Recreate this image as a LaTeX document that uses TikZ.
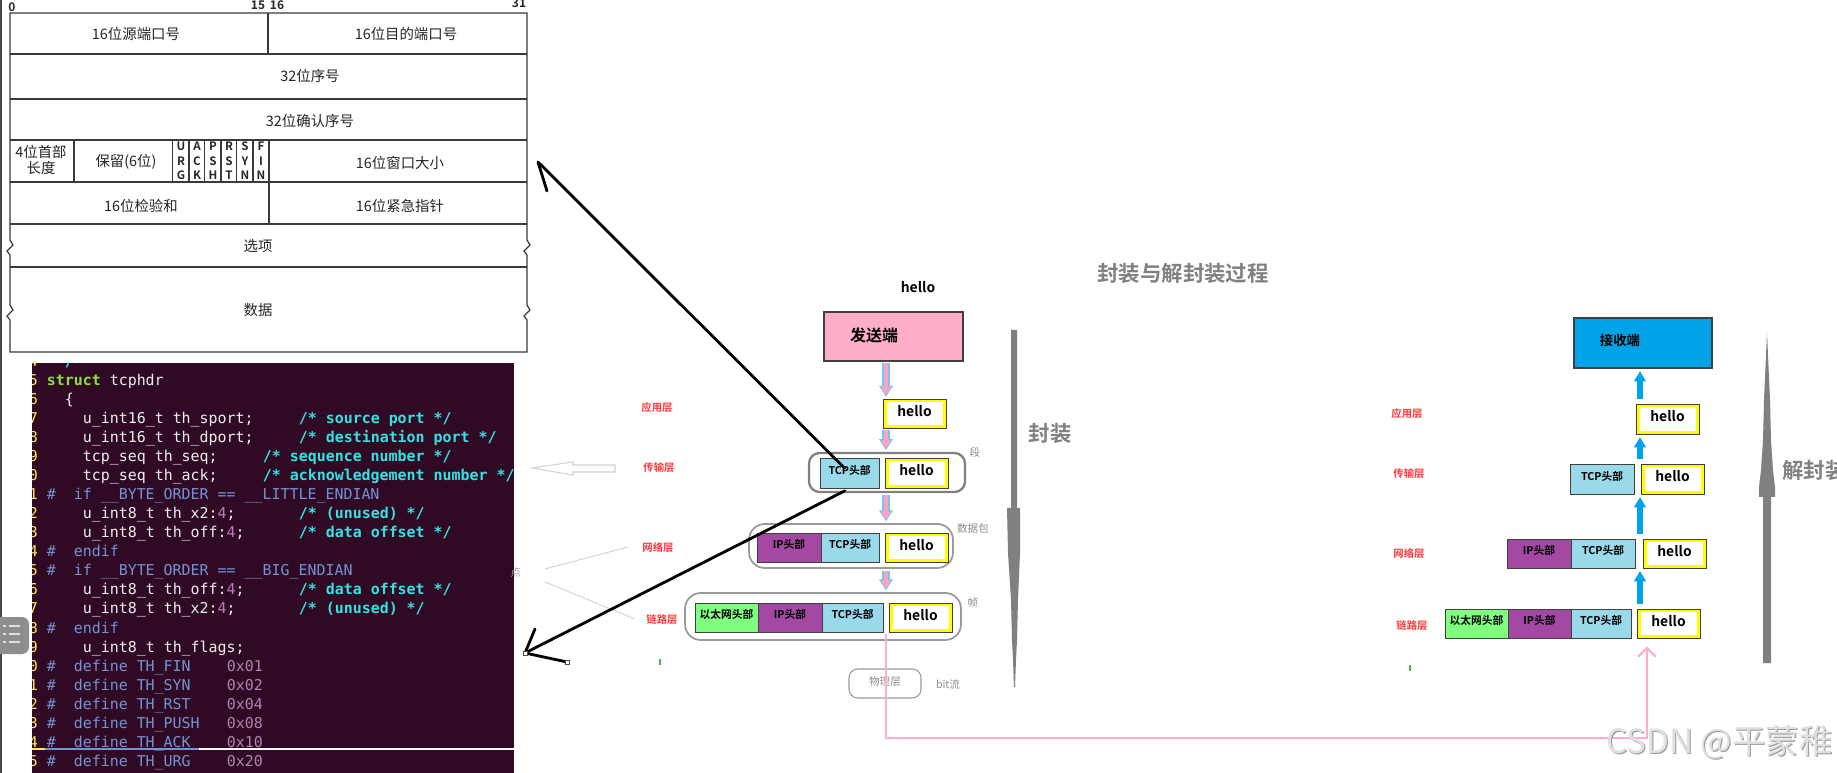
\documentclass[tikz,border=0pt]{standalone}
\usepackage{fontspec}
\setmainfont{Noto Sans CJK SC}[BoldFont={Noto Sans CJK SC Bold}]
\newfontfamily\codefont{DejaVu Sans Mono}
\usetikzlibrary{arrows.meta, positioning, fit}
\definecolor{tblink}{HTML}{3A3A3A}
\definecolor{edgegray}{HTML}{454545}
\definecolor{codebg}{HTML}{300A24}
\definecolor{codewhite}{HTML}{EEEEEC}
\definecolor{codegreen}{HTML}{8AE234}
\definecolor{codecyan}{HTML}{34E2E2}
\definecolor{codeblue}{HTML}{7493D2}
\definecolor{codeplum}{HTML}{B77FB5}
\definecolor{lnyellow}{HTML}{FCE94F}
\definecolor{sendpink}{HTML}{FFAEC9}
\definecolor{recvblue}{HTML}{00A2E8}
\definecolor{tcpblue}{HTML}{99D9EA}
\definecolor{ippurple}{HTML}{A349A4}
\definecolor{ethgreen}{HTML}{80FF80}
\definecolor{helloyel}{HTML}{FFFF00}
\definecolor{boxedge}{HTML}{404040}
\definecolor{grpgray}{HTML}{9A9A9A}
\definecolor{lblgray}{HTML}{8C8C8C}
\definecolor{layred}{HTML}{FF3A3A}
\definecolor{bargray}{HTML}{808080}
\definecolor{arrblue}{HTML}{74C4EC}
\definecolor{arrpink}{HTML}{FFA3C4}
\definecolor{tabgray}{HTML}{8E8E8E}
\definecolor{faintgray}{HTML}{D2D2D2}

\newcommand\kwd[1]{\textcolor{codegreen}{\bfseries #1}}
\newcommand\cmt[1]{\textcolor{codecyan}{\bfseries #1}}
\newcommand\ppc[1]{\textcolor{codeblue}{#1}}
\newcommand\numc[1]{\textcolor{codeplum}{#1}}
\newcommand\codeat[3]{\node[codetxt] (c#1-#2) at ({46.5+9*#2},{367+19*#1}) {#3};}
% text inside fitted cells sits on the centre line: lower it
\newcommand\hl{\raisebox{-3.4pt}{hello}}
\newcommand\hd[1]{\raisebox{-1.9pt}{#1}}

\begin{document}
\begin{tikzpicture}[x=0.02cm, y=-0.02cm,
  tblline/.style={draw=tblink, line width=0.7pt},
  tbltxt/.style={inner sep=0pt, text=black!85, font=\fontsize{8.2}{8.8}\selectfont, align=center},
  flagtxt/.style={inner sep=0pt, text=black!85, font=\bfseries\fontsize{6.6}{8.2}\selectfont, align=center},
  bittxt/.style={inner sep=0pt, text=black!85, font=\bfseries\fontsize{6.8}{7}\selectfont},
  codetxt/.style={anchor=base west, inner sep=0pt, text=codewhite, font=\codefont\fontsize{8.5}{9}\selectfont},
  laybl/.style={inner sep=0pt, text=layred, font=\bfseries\fontsize{5.9}{6}\selectfont},
  graytxt/.style={inner sep=0pt, text=lblgray, font=\fontsize{6}{7}\selectfont},
  cell/.style={draw=boxedge, line width=0.5pt, inner sep=0pt, font=\bfseries\fontsize{6.1}{7}\selectfont},
  tcpcell/.style={cell, fill=tcpblue},
  ipcell/.style={cell, fill=ippurple},
  ethcell/.style={cell, fill=ethgreen},
  hellocell/.style={cell, fill=helloyel, font=\bfseries\fontsize{7.9}{8}\selectfont,
    path picture={\fill[white] ([shift={(2.2pt,-1.6pt)}]path picture bounding box.north west)
      rectangle ([shift={(-1.9pt,1.9pt)}]path picture bounding box.south east);}},
  endbox/.style={draw=boxedge, line width=0.6pt, inner sep=0pt},
  grp/.style={draw=grpgray, line width=1pt, inner sep=0pt},
  titletxt/.style={inner sep=0pt, text=bargray, font=\bfseries\fontsize{12.2}{13}\selectfont},
  downarr/.style={draw=arrblue, line width=4pt, shorten <=1pt, shorten >=1pt,
    -{Triangle[width=7.5pt,length=6.2pt]},
    postaction={draw=arrpink, line width=2.6pt, shorten >=2pt, -{Triangle[width=5.6pt,length=4.6pt]}}},
  uparr/.style={draw=recvblue, line width=3.6pt, shorten <=2.5pt, shorten >=1.5pt,
    -{Triangle[width=6.5pt,length=5.8pt]}},
  handarr/.style={draw=black, line width=1.6pt, line cap=round},
  pinkline/.style={draw=sendpink, line width=1.2pt}
]
\clip (0,0) rectangle (1837,773);
\fill[white] (0,0) rectangle (1837,773);
\fill[edgegray] (0,0) rectangle (2,773);

% TCP header layout
\draw[tblline] (10,352) -- (10,320) -- (7,316) -- (13,310) -- (10,305) -- (10,255) -- (7,251) -- (13,245) -- (10,240)
  -- (10,13) -- (527,13) -- (527,240) -- (530,245) -- (524,251) -- (527,255) -- (527,305) -- (530,310)
  -- (524,316) -- (527,320) -- (527,352) -- cycle;
\foreach \yy in {54,99,140,182,224,267}
  \draw[tblline] (10,\yy) -- (527,\yy);
\draw[tblline] (268,13) -- (268,54) (269,182) -- (269,224);
\foreach \xx in {74,172.5,189,204.5,221,236.5,253,269}
  \draw[tblline] (\xx,140) -- (\xx,182);

\node[bittxt] (b0) at (12,7) {0};
\node[bittxt] (b15) at (258,5) {15};
\node[bittxt] (b16) at (277,5) {16};
\node[bittxt] (b31) at (519,3) {31};
\node[tbltxt] (sport) at (136,34) {16位源端口号};
\node[tbltxt] (dport) at (406,34) {16位目的端口号};
\node[tbltxt] (seq) at (310,76) {32位序号};
\node[tbltxt] (ack) at (310,121) {32位确认序号};
\node[tbltxt] (hlen) at (41,160) {4位首部\\长度};
\node[tbltxt] (resv) at (126,162) {保留(6位)};
\foreach \a/\b/\c/\fx in {U/R/G/181, A/C/K/197, P/S/H/213, R/S/T/229, S/Y/N/245, F/I/N/261}
  \node[flagtxt] (flag-\a\b\c) at (\fx,161) {\a\\\b\\\c};
\node[tbltxt] (win) at (400,163) {16位窗口大小};
\node[tbltxt] (csum) at (141,206) {16位检验和};
\node[tbltxt] (urgp) at (400,206) {16位紧急指针};
\node[tbltxt] (opts) at (258,246) {选项};
\node[tbltxt] (data) at (258,310) {数据};

% tcphdr source
\fill[codebg] (32,363) rectangle (514,773);
\begin{scope}
  \clip (32,363) rectangle (514,773);
  \foreach \rw in {0,...,21} {
    \pgfmathtruncatemacro\lnum{mod(\rw+4,10)}
    \node[codetxt, text=lnyellow] (ln\rw) at (28.5,{367+19*\rw}) {\lnum};
  }
  \codeat{0}{1}{\cmt{*/}}
  \codeat{1}{0}{\kwd{struct} tcphdr}
  \codeat{2}{2}{\{}
  \codeat{3}{4}{u\_int16\_t th\_sport;}
  \codeat{3}{28}{\cmt{/* source port */}}
  \codeat{4}{4}{u\_int16\_t th\_dport;}
  \codeat{4}{28}{\cmt{/* destination port */}}
  \codeat{5}{4}{tcp\_seq th\_seq;}
  \codeat{5}{24}{\cmt{/* sequence number */}}
  \codeat{6}{4}{tcp\_seq th\_ack;}
  \codeat{6}{24}{\cmt{/* acknowledgement number */}}
  \codeat{7}{0}{\ppc{\#\ \ if \_\_BYTE\_ORDER == \_\_LITTLE\_ENDIAN}}
  \codeat{8}{4}{u\_int8\_t th\_x2:\numc{4};}
  \codeat{8}{28}{\cmt{/* (unused) */}}
  \codeat{9}{4}{u\_int8\_t th\_off:\numc{4};}
  \codeat{9}{28}{\cmt{/* data offset */}}
  \codeat{10}{0}{\ppc{\#\ \ endif}}
  \codeat{11}{0}{\ppc{\#\ \ if \_\_BYTE\_ORDER == \_\_BIG\_ENDIAN}}
  \codeat{12}{4}{u\_int8\_t th\_off:\numc{4};}
  \codeat{12}{28}{\cmt{/* data offset */}}
  \codeat{13}{4}{u\_int8\_t th\_x2:\numc{4};}
  \codeat{13}{28}{\cmt{/* (unused) */}}
  \codeat{14}{0}{\ppc{\#\ \ endif}}
  \codeat{15}{4}{u\_int8\_t th\_flags;}
  \foreach \nm/\hx [count=\rw from 16] in {FIN/01, SYN/02, RST/04, PUSH/08, ACK/10, URG/20} {
    \codeat{\rw}{0}{\ppc{\#\ \ define TH\_\nm}}
    \codeat{\rw}{20}{\numc{0x\hx}}
  }
  \draw[lnyellow, line width=0.6pt] (32,749) -- (45,749);
  \draw[codeblue, line width=0.6pt] (45,749) -- (199,749);
  \draw[white, line width=0.6pt] (199,749) -- (514,749);
\end{scope}

% side tab
\fill[tabgray, rounded corners=4pt] (-8,617) rectangle (29,654);
\foreach \yy in {626,634,642} {
  \draw[white!88!black, line width=1.5pt] (3,\yy) -- (6,\yy);
  \draw[white!88!black, line width=1.5pt] (9,\yy) -- (20,\yy);
}

% faint marks next to the code
\draw[faintgray, line width=0.6pt] (615,465) -- (573,465) -- (573,462) -- (532,468) -- (573,475) -- (573,472) -- (615,472) -- cycle;
\node[graytxt, text=black!35] (dian) at (516,572) {点};
\draw[faintgray, line width=0.5pt] (545,569) -- (628,547);
\draw[faintgray, line width=0.5pt] (545,582) -- (635,619);
\draw[green!50!gray, line width=1pt] (660,659) -- (660,665);
\draw[green!50!gray, line width=1pt] (1410,665) -- (1410,671);

% title
\node[titletxt] (title) at (1183,273) {封装与解封装过程};

% sender
\node[inner sep=0pt, font=\bfseries\fontsize{7.9}{8}\selectfont] (msg) at (918,287) {hello};
\node[endbox, fill=sendpink, fit={(824,312) (963,361)}] (send) {};
\node[inner sep=0pt, font=\bfseries\fontsize{9.1}{10}\selectfont] (sendlbl) at (874,335) {发送端};

\node[hellocell, fit={(883,399) (946,428)}] (sh1) {\hl};

\node[grp, line width=1.3pt, draw=bargray, rounded corners=6pt, fit={(809,453) (965,492)}] (seg) {};
\node[tcpcell, fit={(820,458) (879,488)}] (st2) {\hd{TCP头部}};
\node[hellocell, fit={(885,458) (948,488)}] (sh2) {\hl};

\node[grp, rounded corners=9pt, fit={(749,524) (953,568)}] (pkt) {};
\node[ipcell, fit={(757,533) (821,562)}] (si3) {\hd{IP头部}};
\node[tcpcell, fit={(821,533) (879,562)}] (st3) {\hd{TCP头部}};
\node[hellocell, fit={(885,533) (948,562)}] (sh3) {\hl};

\node[grp, rounded corners=9pt, fit={(685,593) (961,640)}] (frm) {};
\node[ethcell, fit={(695,603) (758,632)}] (se4) {\hd{以太网头部}};
\node[ipcell, fit={(758,603) (822,632)}] (si4) {\hd{IP头部}};
\node[tcpcell, fit={(822,603) (883,632)}] (st4) {\hd{TCP头部}};
\node[hellocell, fit={(889,603) (952,632)}] (sh4) {\hl};

\node[draw=grpgray, line width=0.6pt, rounded corners=5pt, inner sep=0pt, fit={(849,669) (921,698)}] (phy) {};
\node[graytxt] (phylbl) at (885,682) {物理层};

\node[graytxt] (seglbl) at (975,452) {段};
\node[graytxt] (pktlbl) at (973,528) {数据包};
\node[graytxt] (frmlbl) at (973,603) {帧};
\node[graytxt] (bitlbl) at (948,684) {bit流};

\node[laybl] (sapp) at (657,408) {应用层};
\node[laybl] (stra) at (659,468) {传输层};
\node[laybl] (snet) at (658,548) {网络层};
\node[laybl] (slnk) at (662,620) {链路层};

\coordinate (sx) at (886,0);
\draw[downarr] (send.south -| sx) -- (sh1.north -| sx);
\draw[downarr] (sh1.south -| sx) -- (seg.north -| sx);
\draw[downarr] (seg.south -| sx) -- (pkt.north -| sx);
\draw[downarr] (pkt.south -| sx) -- (frm.north -| sx);

% encapsulation bar
\fill[bargray] (1011,330) -- (1017,330) -- (1017,508) -- (1020,508) -- (1020,553) -- (1018,600) -- (1017,640)
  -- (1016,660) -- (1015,687) -- (1014,687) -- (1013,660) -- (1012,640) -- (1011,600) -- (1008,553)
  -- (1007,508) -- (1011,508) -- cycle;
\node[titletxt] (encap) at (1050,433) {封装};

% receiver
\node[endbox, fill=recvblue, fit={(1574,318) (1712,368)}] (recv) {};
\node[inner sep=0pt, font=\bfseries\fontsize{7.6}{8}\selectfont] (recvlbl) at (1620,340) {接收端};

\node[hellocell, fit={(1636,404) (1699,434)}] (rh1) {\hl};

\node[tcpcell, fit={(1570,464) (1634,494)}] (rt2) {\hd{TCP头部}};
\node[hellocell, fit={(1641,464) (1704,494)}] (rh2) {\hl};

\node[ipcell, fit={(1507,539) (1571,568)}] (ri3) {\hd{IP头部}};
\node[tcpcell, fit={(1571,539) (1635,568)}] (rt3) {\hd{TCP头部}};
\node[hellocell, fit={(1643,539) (1706,568)}] (rh3) {\hl};

\node[ethcell, fit={(1445,609) (1508,638)}] (re4) {\hd{以太网头部}};
\node[ipcell, fit={(1508,609) (1571,638)}] (ri4) {\hd{IP头部}};
\node[tcpcell, fit={(1571,609) (1631,638)}] (rt4) {\hd{TCP头部}};
\node[hellocell, fit={(1637,609) (1700,638)}] (rh4) {\hl};

\node[laybl] (rapp) at (1407,414) {应用层};
\node[laybl] (rtra) at (1409,474) {传输层};
\node[laybl] (rnet) at (1409,554) {网络层};
\node[laybl] (rlnk) at (1412,626) {链路层};

\coordinate (rx) at (1640,0);
\draw[uparr] (rh1.north -| rx) -- (recv.south -| rx);
\draw[uparr] (rh2.north -| rx) -- (rh1.south -| rx);
\draw[uparr] (rh3.north -| rx) -- (rh2.south -| rx);
\draw[uparr] (rh4.north -| rx) -- (rh3.south -| rx);

% decapsulation bar
\fill[bargray] (1767,333) -- (1768,355) -- (1770,400) -- (1771,440) -- (1773,470) -- (1775,487) -- (1775,497)
  -- (1771,497) -- (1771,663) -- (1763,663) -- (1763,497) -- (1759,497) -- (1759,487) -- (1761,470)
  -- (1763,440) -- (1764,400) -- (1766,355) -- cycle;
\node[titletxt, anchor=west] (decap) at (1782,470) {解封装};

% bit stream
\coordinate (bitstart) at (886,634);
\coordinate (pturn) at (1647,738);
\draw[pinkline, shorten >=4.5pt, -{Straight Barb[length=5pt,width=10pt]}] (bitstart) |- (pturn) -- (rh4.south -| pturn);

% hand-drawn pointers
\coordinate (hdrtip) at (538,162);
\coordinate (codetip) at (525,653);
\draw[handarr, shorten <=4pt] (st2.center) -- (hdrtip);
\draw[handarr] (hdrtip) -- ++(9,29);
\draw[handarr, shorten <=3pt] (st2.south) -- (codetip);
\draw[handarr] (codetip) -- ++(10,-24);
\draw[handarr] (codetip) -- ++(42,9);
\filldraw[fill=white, draw=black!70, line width=0.4pt] ([shift={(-2,-2)}]codetip) rectangle ([shift={(2,2)}]codetip);
\filldraw[fill=white, draw=black!70, line width=0.4pt] ([shift={(40,7)}]codetip) rectangle ([shift={(44,11)}]codetip);

% watermark
\node[inner sep=0pt, anchor=east, text=black!40, font=\fontsize{19}{20}\selectfont] (wmshade) at (1834,743) {CSDN @平蒙稚};
\node[inner sep=0pt, anchor=east, text=black!12, font=\fontsize{19}{20}\selectfont] (wmark) at (1833,742) {CSDN @平蒙稚};
\end{tikzpicture}
\end{document}
